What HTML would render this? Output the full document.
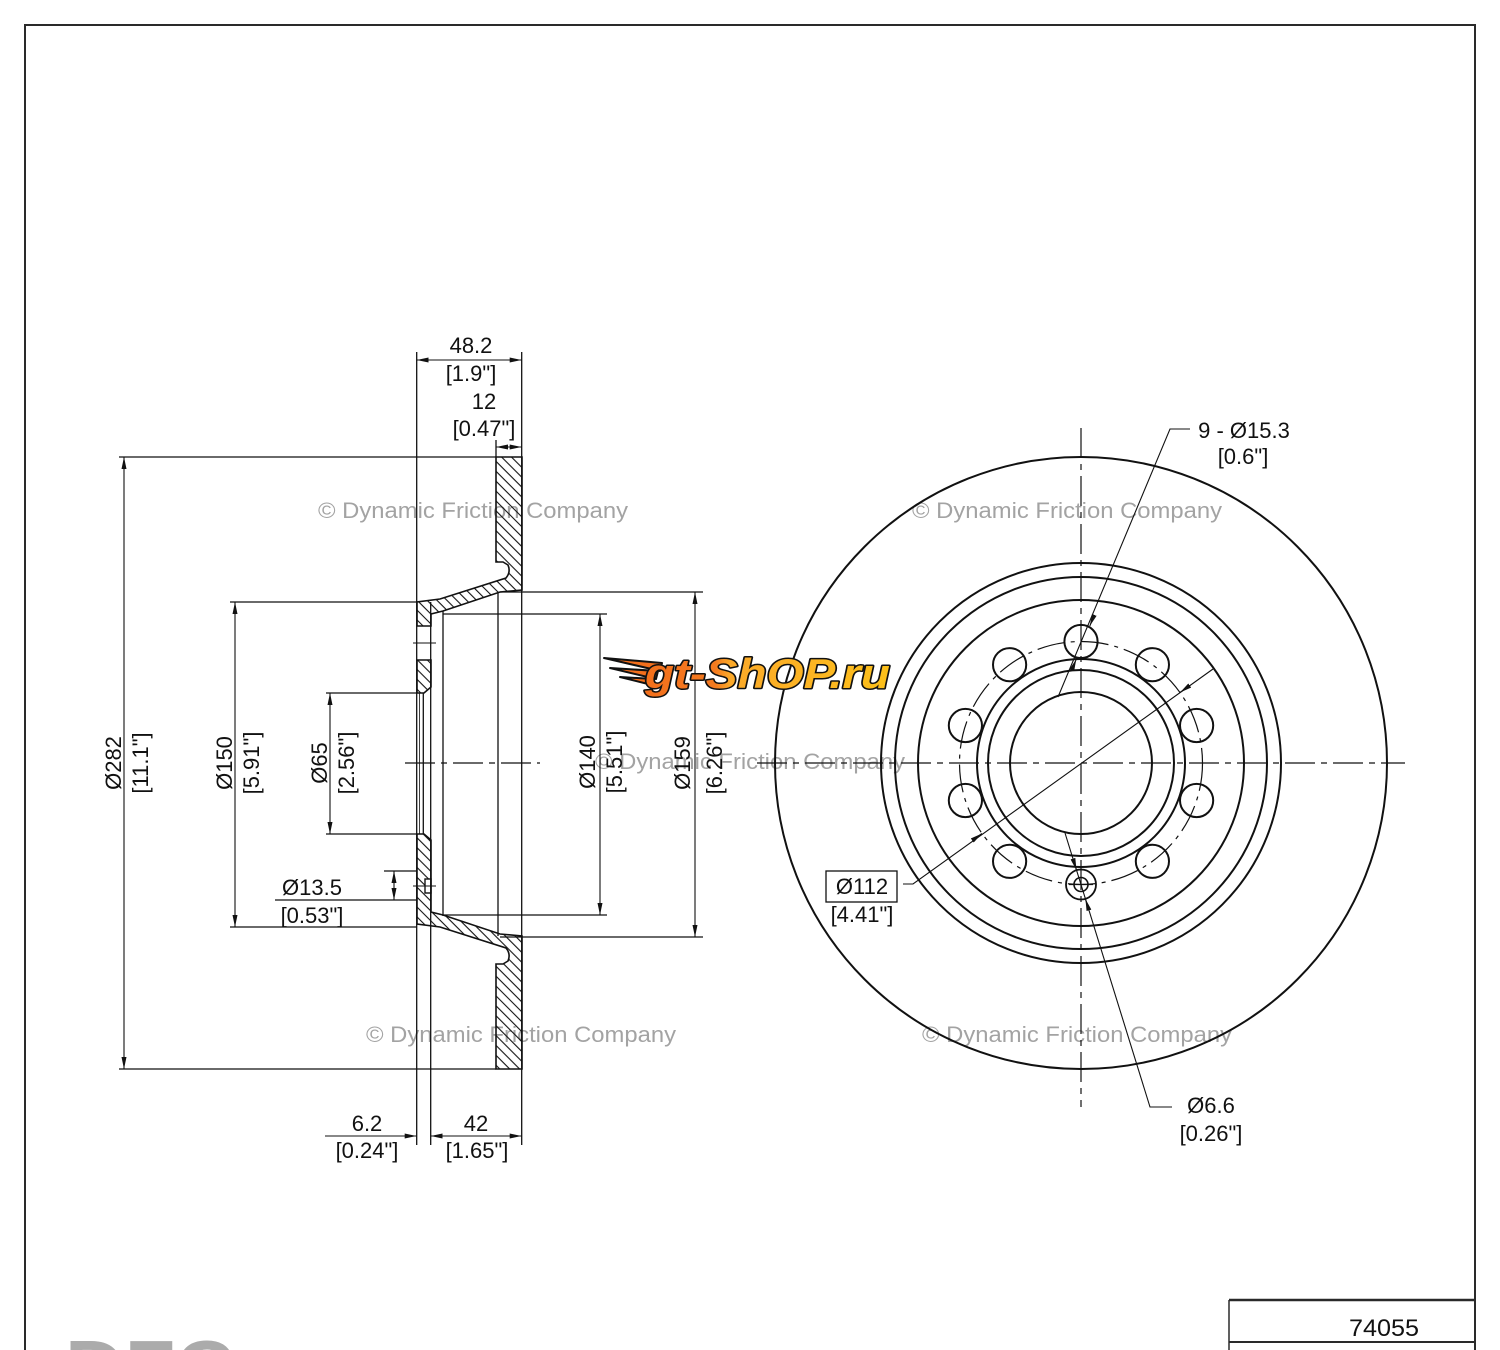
<!DOCTYPE html>
<html><head><meta charset="utf-8"><style>
html,body{margin:0;padding:0;background:#fff;}
svg{display:block;}
text{font-family:"Liberation Sans",sans-serif;}
</style></head><body>
<svg width="1500" height="1350" viewBox="0 0 1500 1350" xmlns="http://www.w3.org/2000/svg">
<defs>
<pattern id="h" width="7" height="7" patternUnits="userSpaceOnUse" patternTransform="rotate(45)">
<line x1="0" y1="3.5" x2="7" y2="3.5" stroke="#111" stroke-width="1.1"/>
</pattern>
<marker id="ar" viewBox="0 0 12 5" refX="12" refY="2.5" markerWidth="12" markerHeight="5" markerUnits="userSpaceOnUse" orient="auto-start-reverse"><path d="M0,0 L12,2.5 L0,5 z" fill="#111"/></marker>
<linearGradient id="lg" x1="640" y1="0" x2="890" y2="0" gradientUnits="userSpaceOnUse">
<stop offset="0" stop-color="#f36f1c"/><stop offset="0.3" stop-color="#f47a1f"/><stop offset="0.36" stop-color="#fba92a"/><stop offset="1" stop-color="#fcc01a"/>
</linearGradient>
</defs>
<rect width="1500" height="1350" fill="#fff"/>

<!-- frame -->
<path d="M25,1350 L25,25 L1475,25 L1475,1350" fill="none" stroke="#2a2a2a" stroke-width="2"/>

<!-- watermarks -->
<g fill="#a3a3a3" font-size="22">
<text x="318" y="518" textLength="310" lengthAdjust="spacingAndGlyphs">© Dynamic Friction Company</text>
<text x="912" y="518" textLength="310" lengthAdjust="spacingAndGlyphs">© Dynamic Friction Company</text>
<text x="595" y="769" textLength="310" lengthAdjust="spacingAndGlyphs">© Dynamic Friction Company</text>
<text x="366" y="1042" textLength="310" lengthAdjust="spacingAndGlyphs">© Dynamic Friction Company</text>
<text x="922" y="1042" textLength="310" lengthAdjust="spacingAndGlyphs">© Dynamic Friction Company</text>
</g>

<!-- ===== LEFT SECTION VIEW ===== -->
<g stroke="#111" stroke-width="1.6" fill="url(#h)">
<path d="M496,457 L522,457 L522,590 L500,592 L443,611 L431,614 L431,626 L417,626 L417,602 L440,599 L506,578 Q511,572 508,565 L503,562 L496,562 Z"/>
<path d="M417,660 L431,660 L431,687 L424,693 L417,693 Z"/>
<path d="M417,834 L424,834 L431,840 L431,912 L443,915 L500,934 L522,936 L522,1069 L496,1069 L496,964 L503,964 L508,961 Q511,954 506,948 L440,927 L417,924 Z"/>
</g>
<rect x="425" y="879" width="6" height="14" fill="#fff" stroke="#111" stroke-width="1.4"/>

<g stroke="#111" stroke-width="1.3" fill="none">
<!-- section edges -->
<line x1="416.7" y1="352" x2="416.7" y2="1145"/>
<line x1="521.7" y1="352" x2="521.7" y2="1145"/>
<line x1="430.7" y1="602" x2="430.7" y2="1145"/>
<line x1="423.3" y1="693" x2="423.3" y2="834"/>
<line x1="419.5" y1="693" x2="419.5" y2="834" stroke-width="0.8"/>
<line x1="443" y1="611" x2="443" y2="916"/>
<line x1="498" y1="592" x2="498" y2="936"/>
<line x1="496" y1="440" x2="496" y2="457"/>
<!-- extension lines -->
<line x1="119" y1="457" x2="496" y2="457"/>
<line x1="119" y1="1069" x2="496" y2="1069"/>
<line x1="230" y1="602" x2="417" y2="602"/>
<line x1="230" y1="927" x2="417" y2="927"/>
<line x1="326" y1="693" x2="417" y2="693"/>
<line x1="326" y1="834" x2="417" y2="834"/>
<line x1="443" y1="614" x2="607" y2="614"/>
<line x1="443" y1="915" x2="607" y2="915"/>
<line x1="500" y1="592" x2="703" y2="592"/>
<line x1="500" y1="937" x2="703" y2="937"/>
<line x1="384" y1="871" x2="417" y2="871"/>
<line x1="275" y1="900" x2="417" y2="900"/>
<!-- hole centerlines -->
<line x1="413" y1="643" x2="436" y2="643" stroke-width="1"/>
<line x1="413" y1="886" x2="436" y2="886" stroke-width="1"/>
<!-- centerline -->
<line x1="405" y1="763" x2="540" y2="763" stroke-width="1.2" stroke-dasharray="30 6 6 6"/>
</g>

<!-- dimension lines -->
<g stroke="#111" stroke-width="1.1" fill="none" marker-start="url(#ar)" marker-end="url(#ar)">
<line x1="416.7" y1="360" x2="521.7" y2="360"/>
<line x1="496" y1="447" x2="521.7" y2="447"/>
<line x1="430.7" y1="1136" x2="521.7" y2="1136"/>
<line x1="124" y1="457" x2="124" y2="1069"/>
<line x1="235" y1="602" x2="235" y2="927"/>
<line x1="330" y1="693" x2="330" y2="834"/>
<line x1="600" y1="614" x2="600" y2="915"/>
<line x1="695" y1="592" x2="695" y2="937"/>
<line x1="394" y1="871" x2="394" y2="900"/>
</g>
<line x1="325" y1="1136" x2="416.7" y2="1136" stroke="#111" stroke-width="1.1" marker-end="url(#ar)"/>

<!-- left dims text -->
<g fill="#111" font-size="22" text-anchor="middle">
<text x="471" y="353">48.2</text>
<text x="471" y="381">[1.9"]</text>
<text x="484" y="409">12</text>
<text x="484" y="436">[0.47"]</text>
<text x="367" y="1131">6.2</text>
<text x="367" y="1158">[0.24"]</text>
<text x="476" y="1131">42</text>
<text x="477" y="1158">[1.65"]</text>
<text x="312" y="895">Ø13.5</text>
<text x="312" y="923">[0.53"]</text>
<text transform="translate(121,763) rotate(-90)">Ø282</text>
<text transform="translate(148,763) rotate(-90)">[11.1"]</text>
<text transform="translate(232,763) rotate(-90)">Ø150</text>
<text transform="translate(259,763) rotate(-90)">[5.91"]</text>
<text transform="translate(327,763) rotate(-90)">Ø65</text>
<text transform="translate(354,763) rotate(-90)">[2.56"]</text>
<text transform="translate(595,762) rotate(-90)">Ø140</text>
<text transform="translate(622,762) rotate(-90)">[5.51"]</text>
<text transform="translate(690,763) rotate(-90)">Ø159</text>
<text transform="translate(722,763) rotate(-90)">[6.26"]</text>
</g>

<!-- ===== RIGHT FRONT VIEW ===== -->
<g stroke="#111" stroke-width="2" fill="none">
<circle cx="1081" cy="763" r="306"/>
<circle cx="1081" cy="763" r="200"/>
<circle cx="1081" cy="763" r="186"/>
<circle cx="1081" cy="763" r="163"/>
<circle cx="1081" cy="763" r="104"/>
<circle cx="1081" cy="763" r="93"/>
<circle cx="1081" cy="763" r="71"/>
<circle cx="1081" cy="641.5" r="16.6"/>
<circle cx="1152.4" cy="664.7" r="16.6"/>
<circle cx="1196.6" cy="725.5" r="16.6"/>
<circle cx="1196.6" cy="800.5" r="16.6"/>
<circle cx="1152.4" cy="861.3" r="16.6"/>
<circle cx="1009.6" cy="861.3" r="16.6"/>
<circle cx="965.4" cy="800.5" r="16.6"/>
<circle cx="965.4" cy="725.5" r="16.6"/>
<circle cx="1009.6" cy="664.7" r="16.6"/>
<circle cx="1081" cy="884.5" r="15" stroke-width="1.8"/>
<circle cx="1081" cy="884.5" r="7" stroke-width="1.6"/>
</g>
<g stroke="#111" fill="none">
<circle cx="1081" cy="763" r="121.5" stroke-width="1.2" stroke-dasharray="28 6 4 6"/>
<line x1="757" y1="763" x2="1405" y2="763" stroke-width="1.2" stroke-dasharray="30 6 6 6"/>
<line x1="1081" y1="428" x2="1081" y2="1107" stroke-width="1.2" stroke-dasharray="30 6 6 6"/>
<line x1="1069" y1="884.5" x2="1093" y2="884.5" stroke-width="1.2"/>
<!-- leaders -->
<polyline points="1190,429 1170,429 1058,697" stroke-width="1.1"/>
<polyline points="903,884 913,884 1213,669" stroke-width="1.1"/>
<polyline points="1065,833 1150,1107 1172,1107" stroke-width="1.1"/>
<rect x="826" y="871" width="71" height="31" stroke-width="1.3"/>
</g>
<g stroke="#111" stroke-width="1.1" marker-end="url(#ar)">
<line x1="1094.3" y1="614.9" x2="1089.8" y2="626"/>
<line x1="1071.8" y1="670.2" x2="1076.3" y2="659.1"/>
<line x1="1189.8" y1="685.5" x2="1180" y2="692.5"/>
<line x1="972.2" y1="840.5" x2="982" y2="833.5"/>
<line x1="1072.9" y1="858.6" x2="1076.5" y2="870.1"/>
<line x1="1089" y1="910.4" x2="1085.4" y2="898.9"/>
</g>
<g fill="#111" font-size="22" text-anchor="middle">
<text x="1244" y="438">9 - Ø15.3</text>
<text x="1243" y="464">[0.6"]</text>
<text x="862" y="894">Ø112</text>
<text x="862" y="922">[4.41"]</text>
<text x="1211" y="1113">Ø6.6</text>
<text x="1211" y="1141">[0.26"]</text>
</g>

<!-- gt-shop logo -->
<g stroke="#111" stroke-width="2" stroke-linejoin="round">
<polygon points="604,658 662,663 660,671" fill="#f36f1c"/>
<polygon points="610,668 658,671 656,679" fill="#f36f1c"/>
<polygon points="620,677 654,679 652,685" fill="#f36f1c"/>
</g>
<text x="645" y="688" font-size="42" font-weight="bold" font-style="italic" textLength="245" lengthAdjust="spacingAndGlyphs" fill="url(#lg)" stroke="#111" stroke-width="3" paint-order="stroke" stroke-linejoin="round">gt-ShOP.ru</text>

<!-- title block -->
<g stroke="#2a2a2a" fill="none">
<line x1="1229" y1="1300" x2="1475" y2="1300" stroke-width="2.5"/>
<line x1="1229" y1="1300" x2="1229" y2="1350" stroke-width="1.5"/>
<line x1="1229" y1="1342" x2="1475" y2="1342" stroke-width="2"/>
</g>
<text x="1384" y="1336" font-size="24" text-anchor="middle" textLength="70" lengthAdjust="spacingAndGlyphs" fill="#111">74055</text>
<text x="65" y="1396" font-size="80" font-weight="bold" textLength="170" lengthAdjust="spacingAndGlyphs" fill="#ababab">DFC</text>
</svg>
</body></html>
